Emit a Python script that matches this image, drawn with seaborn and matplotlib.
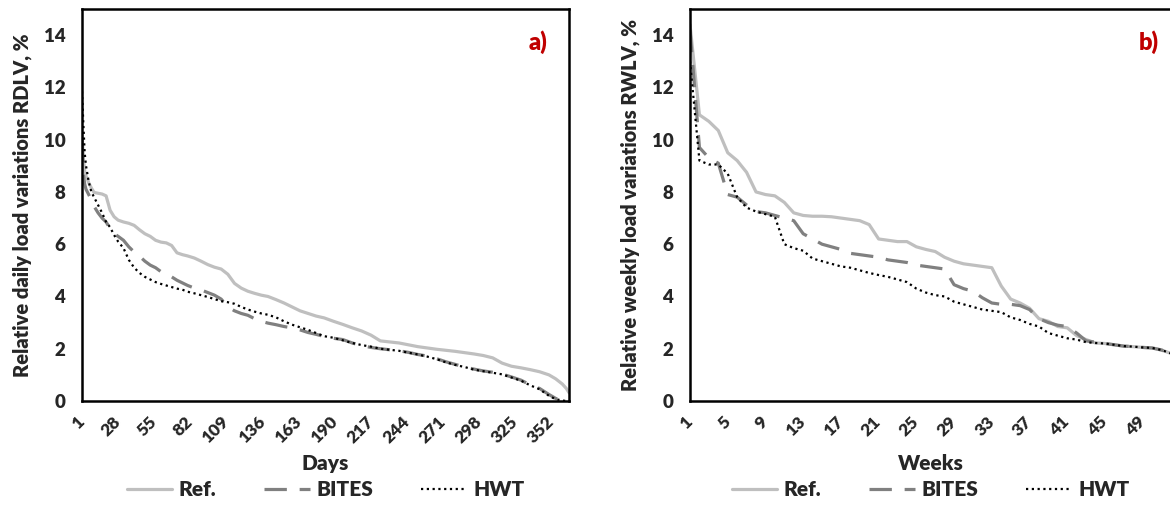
import matplotlib
matplotlib.use("Agg")
import matplotlib.pyplot as plt
import seaborn as sns
import pandas as pd

# ---------------- data ----------------
days = [1, 2, 3, 4, 5, 6, 8, 10, 13, 16, 19, 22, 25, 28, 32, 36, 40, 44, 48, 52,
        56, 60, 64, 68, 72, 76, 80, 85, 90, 95, 100, 105, 110, 115, 120, 125, 130,
        135, 140, 146, 152, 158, 164, 170, 176, 182, 189, 196, 203, 210, 217, 224,
        231, 238, 245, 252, 259, 266, 273, 280, 287, 294, 301, 308, 315, 322, 329,
        336, 343, 350, 355, 360, 363, 365]

ref_daily = [10.25, 9.3, 8.8, 8.6, 8.5, 8.35, 8.15, 7.98, 7.95, 7.92, 7.85, 7.3, 7.05,
             6.92, 6.85, 6.8, 6.72, 6.55, 6.4, 6.3, 6.15, 6.08, 6.05, 5.95, 5.67, 5.6,
             5.55, 5.47, 5.35, 5.22, 5.12, 5.05, 4.85, 4.5, 4.32, 4.2, 4.12, 4.05, 4.0,
             3.88, 3.75, 3.6, 3.45, 3.35, 3.25, 3.18, 3.05, 2.93, 2.8, 2.68, 2.52, 2.3,
             2.26, 2.22, 2.15, 2.08, 2.03, 1.98, 1.94, 1.9, 1.85, 1.8, 1.74, 1.65, 1.45,
             1.33, 1.27, 1.2, 1.12, 1.0, 0.85, 0.65, 0.48, 0.32]

bites_daily = [10.0, 8.7, 8.3, 8.1, 8.0, 7.9, 7.7, 7.45, 7.2, 7.0, 6.85, 6.6, 6.4, 6.3,
               6.15, 5.9, 5.7, 5.54, 5.35, 5.2, 5.1, 4.95, 4.85, 4.75, 4.62, 4.52, 4.42,
               4.32, 4.25, 4.15, 4.05, 3.9, 3.6, 3.45, 3.35, 3.28, 3.15, 3.05, 2.98, 2.92,
               2.85, 2.8, 2.72, 2.62, 2.55, 2.47, 2.4, 2.35, 2.22, 2.12, 2.05, 2.0, 1.96,
               1.92, 1.86, 1.78, 1.72, 1.62, 1.5, 1.4, 1.3, 1.22, 1.15, 1.1, 1.03, 0.92,
               0.8, 0.62, 0.48, 0.25, 0.1, 0.03, 0.0, 0.0]

hwt_daily = [11.85, 10.6, 9.5, 9.0, 8.7, 8.4, 8.0, 7.8, 7.5, 7.2, 6.85, 6.65, 6.35, 6.1,
             5.85, 5.4, 5.1, 4.9, 4.75, 4.65, 4.55, 4.48, 4.42, 4.36, 4.3, 4.26, 4.18,
             4.12, 4.05, 3.98, 3.9, 3.82, 3.78, 3.72, 3.6, 3.5, 3.42, 3.35, 3.3, 3.2,
             3.05, 2.92, 2.82, 2.72, 2.6, 2.48, 2.42, 2.32, 2.22, 2.14, 2.08, 2.0, 1.96,
             1.92, 1.85, 1.78, 1.7, 1.6, 1.48, 1.38, 1.3, 1.2, 1.14, 1.08, 1.02, 0.9,
             0.78, 0.6, 0.45, 0.2, 0.07, 0.02, 0.0, 0.0]

weeks = list(range(1, 53))

ref_weekly = [14.4, 10.95, 10.7, 10.35, 9.5, 9.2, 8.75, 8.0, 7.9, 7.85, 7.6, 7.2, 7.1,
              7.07, 7.07, 7.05, 7.0, 6.95, 6.9, 6.75, 6.2, 6.15, 6.1, 6.1, 5.9, 5.8,
              5.72, 5.5, 5.35, 5.25, 5.2, 5.15, 5.1, 4.4, 3.9, 3.75, 3.55, 3.15, 3.05,
              2.85, 2.8, 2.5, 2.35, 2.22, 2.2, 2.15, 2.1, 2.08, 2.05, 2.03, 1.95, 1.82]

bites_weekly = [14.2, 9.7, 9.3, 9.1, 7.9, 7.8, 7.5, 7.25, 7.2, 7.1, 7.0, 6.9, 6.4, 6.2,
                6.0, 5.9, 5.8, 5.65, 5.6, 5.55, 5.5, 5.4, 5.35, 5.3, 5.2, 5.15, 5.1,
                5.05, 4.45, 4.3, 4.2, 3.95, 3.75, 3.7, 3.7, 3.65, 3.5, 3.15, 3.0, 2.9,
                2.85, 2.6, 2.3, 2.25, 2.2, 2.15, 2.1, 2.08, 2.05, 2.03, 1.95, 1.82]

hwt_weekly = [13.0, 9.2, 9.05, 9.05, 8.7, 7.8, 7.4, 7.25, 7.15, 7.05, 6.0, 5.85, 5.75,
              5.45, 5.35, 5.25, 5.15, 5.1, 5.0, 4.9, 4.82, 4.75, 4.65, 4.55, 4.3, 4.15,
              4.05, 4.0, 3.8, 3.7, 3.6, 3.5, 3.45, 3.4, 3.2, 3.1, 2.95, 2.85, 2.6, 2.5,
              2.4, 2.35, 2.25, 2.22, 2.2, 2.15, 2.1, 2.08, 2.05, 2.03, 1.95, 1.82]

series_names = ["Ref.", "BITES", "HWT"]
day_ticks = list(range(1, 365, 27))
week_ticks = list(range(1, 53, 4))
y_ticks = [0, 2, 4, 6, 8, 10, 12, 14]

# ---------------- style ----------------
sns.set_theme(style="white")
plt.rcParams["font.family"] = ["Lato", "DejaVu Sans"]
WEIGHT = "heavy"
plt.rcParams["font.weight"] = WEIGHT

colors = {"Ref.": "#BFBFBF", "BITES": "#808080", "HWT": "#000000"}
widths = {"Ref.": 2.3, "BITES": 2.3, "HWT": 1.6}
styles = {"Ref.": "-", "BITES": (0, (7, 4)), "HWT": (0, (1, 1.6))}

fig = plt.figure(figsize=(11.7, 5.07), dpi=100)
W, H = 1170, 507
ax1 = fig.add_axes([82 / W, (H - 401) / H, 487 / W, 392 / H])
ax2 = fig.add_axes([690 / W, (H - 401) / H, 481 / W, 392 / H])


def draw(ax, x, ys, xticks, xlim, xlabel, ylabel, tag, tagx):
    for name, y in zip(series_names, ys):
        df = pd.DataFrame({"x": x, "y": y})
        sns.lineplot(data=df, x="x", y="y", ax=ax, color=colors[name],
                     linewidth=widths[name], linestyle=styles[name],
                     label=name, estimator=None, sort=False)
    ax.set_xlim(*xlim)
    ax.set_ylim(0, 15)
    ax.set_yticks(y_ticks)
    ax.set_xticks(xticks)
    ax.set_xticklabels([str(t) for t in xticks])
    ax.tick_params(axis="y", length=0, pad=12, labelsize=13.5)
    ax.tick_params(axis="x", length=0, pad=13, labelsize=12.5)
    for lab in ax.get_xticklabels():
        lab.set_rotation(45)
        lab.set_ha("right")
        lab.set_va("center")
        lab.set_rotation_mode("anchor")
        lab.set_fontweight(WEIGHT)
    for lab in ax.get_yticklabels():
        lab.set_fontweight(WEIGHT)
    for sp in ax.spines.values():
        sp.set_color("black")
        sp.set_linewidth(1.8)
        sp.set_visible(True)
    ax.set_xlabel(xlabel, fontsize=15, fontweight=WEIGHT)
    ax.xaxis.set_label_coords(0.5, -0.135)
    ax.set_ylabel(ylabel, fontsize=14.5, fontweight=WEIGHT)
    ax.yaxis.set_label_coords(-0.103, 0.5)
    ax.text(tagx, 0.915, tag, transform=ax.transAxes, ha="right", va="center",
            color="#C00000", fontsize=17, fontweight=WEIGHT)
    ax.legend(loc="center", bbox_to_anchor=(0.5, -0.227), ncol=3, frameon=False,
              handlelength=2.2, handletextpad=0.3, columnspacing=2.3,
              prop={"family": ["Lato", "DejaVu Sans"], "weight": WEIGHT, "size": 15})
    ax.grid(False)


draw(ax1, days, [ref_daily, bites_daily, hwt_daily], day_ticks, (1, 365),
     "Days", "Relative daily load variations RDLV, %", "a)", 0.955)
draw(ax2, weeks, [ref_weekly, bites_weekly, hwt_weekly], week_ticks, (1, 52),
     "Weeks", "Relative weekly load variations RWLV, %", "b)", 0.975)

fig.savefig("out.png", dpi=100)
